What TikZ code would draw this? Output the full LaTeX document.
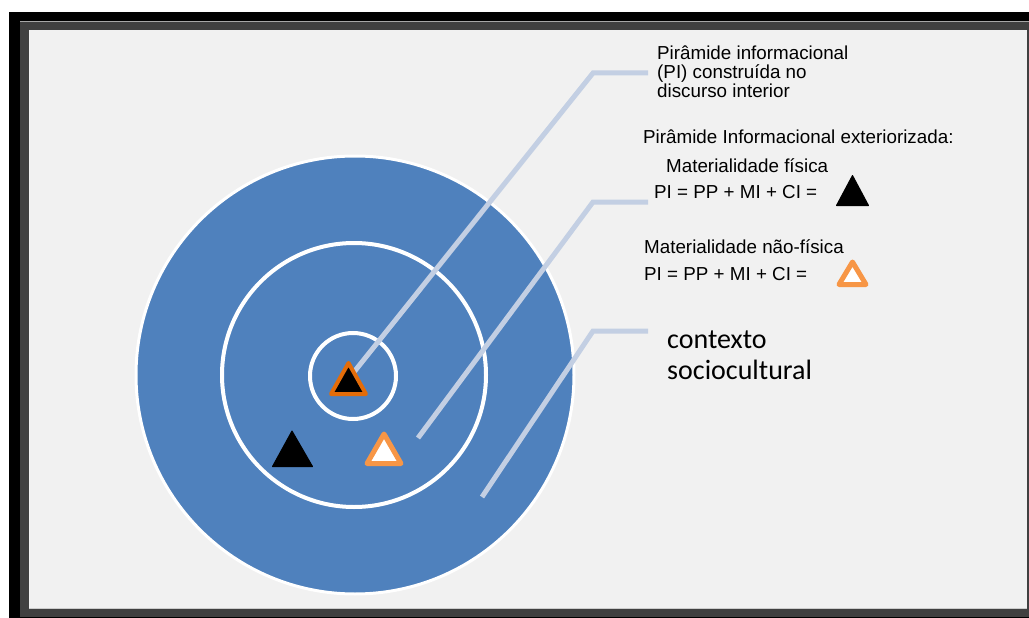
\documentclass[tikz,border=0pt]{standalone}
\usepackage{fontspec}
\setmainfont{Liberation Sans}
\newfontfamily\arialfont{Liberation Sans}
\newfontfamily\calibrifont{Carlito}
\definecolor{framegray}{HTML}{404040}
\definecolor{panelgray}{HTML}{F1F1F1}
\definecolor{ctxblue}{HTML}{4F81BD}
\definecolor{leader}{HTML}{C3CFE3}
\definecolor{darkorange}{HTML}{E36C09}
\definecolor{lightorange}{HTML}{F79646}
\tikzset{
  leaderline/.style={draw=leader, line width=5pt},
  ring/.style={draw=white, line width=4pt},
  lbl/.style={inner sep=0pt, anchor=base west, font=\arialfont\fontsize{18.8}{20}\selectfont},
  ctxlbl/.style={inner sep=0pt, anchor=base west, font=\calibrifont\fontsize{28}{32}\selectfont},
  blackpyr/.style={fill=black, draw=black, line width=1pt, line join=round},
  whitepyr/.style={fill=white, draw=lightorange, line width=5pt, line join=round},
  innerpyr/.style={fill=black, draw=darkorange, line width=4pt, line join=round},
}
\begin{document}
\begin{tikzpicture}[x=1pt,y=-1pt]
\useasboundingbox (0,0) rectangle (1029,618);
% window frame and panel
\fill[white] (0,0) rectangle (1029,618);
\fill[black] (9,12) rectangle (1029,618);
\fill[framegray] (20,21) rectangle (1029,617);
\draw[gray!70, line width=1pt] (20,21.5) -- (1029,21.5);
\fill[panelgray] (29,30) rectangle (1027,608);
\draw[gray!40, line width=1pt] (29,608.5) -- (1027,608.5);

% nested circles
\fill[ctxblue] (355,375) circle[radius=219pt];
\draw[white, line width=3pt] (355,375) circle[radius=219pt];
\draw[ring] (354,375) circle[radius=132pt];
\draw[ring] (353,376) circle[radius=43pt];

% leader end points
\coordinate (l1a) at (354,372);
\coordinate (l1b) at (593,73);
\coordinate (l1c) at (648,73);
\coordinate (l2a) at (418,438);
\coordinate (l2b) at (593,202);
\coordinate (l2c) at (648,202);
\coordinate (l3a) at (482,497);
\coordinate (l3b) at (593,331);
\coordinate (l3c) at (648,331);
\draw[leaderline] (l1a) -- (l1b) -- (l1c);
\draw[leaderline] (l2a) -- (l2b) -- (l2c);
\draw[leaderline] (l3a) -- (l3b) -- (l3c);

% pyramids in the circles
\draw[innerpyr] (348.5,363) -- (366,394) -- (331,394) -- cycle;
\draw[blackpyr] (292,431) -- (312.5,466.5) -- (272.5,466.5) -- cycle;
\draw[whitepyr] (384,434) -- (401,463.5) -- (367,463.5) -- cycle;

% labels
\node[lbl] (t1) at (657,60) {Pirâmide informacional};
\node[lbl] (t2) at (657,79) {(PI) construída no};
\node[lbl] (t3) at (657,98) {discurso interior};
\node[lbl] (t4) at (643,143) {Pirâmide Informacional exteriorizada:};
\node[lbl] (t5) at (666,172) {Materialidade física};
\node[lbl] (t6) at (654,198) {PI = PP + MI + CI =};
\node[lbl] (t7) at (644,253) {Materialidade não-física};
\node[lbl] (t8) at (644,280) {PI = PP + MI + CI =};
\node[ctxlbl] (t9) at (667,348) {contexto};
\node[ctxlbl] (t10) at (667,379) {sociocultural};

% key pyramids
\draw[blackpyr] (852.5,175.5) -- (868.5,205.5) -- (836.5,205.5) -- cycle;
\draw[whitepyr] (852.5,262) -- (866,284.5) -- (839,284.5) -- cycle;
\end{tikzpicture}
\end{document}
